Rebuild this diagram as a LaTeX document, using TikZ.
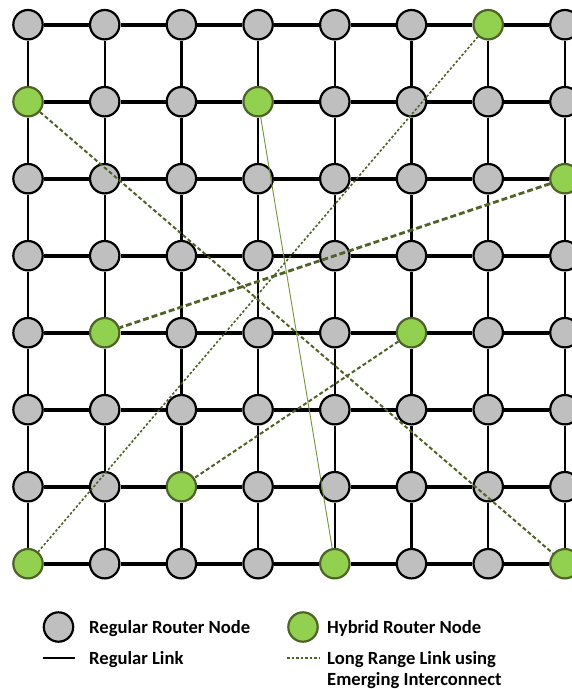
\documentclass[tikz,border=0pt]{standalone}
\usepackage{fontspec}
\setmainfont{Carlito}
\definecolor{fill0}{RGB}{191,191,191}
\definecolor{border0}{RGB}{0,0,0}
\definecolor{fill1}{RGB}{146,208,80}
\definecolor{border1}{RGB}{79,98,40}
\definecolor{lrcol}{RGB}{79,98,40}
\definecolor{lrsolidcol}{RGB}{118,146,60}
\begin{document}
\begin{tikzpicture}[x=1pt,y=-1pt,
  router/.style={circle,line width=2.2pt,minimum size=29.4pt,inner sep=0pt},
  hlink/.style={line width=3.6pt,black},
  vlink/.style={line width=2.4pt,black},
  lrone/.style={lrcol,line width=1.6pt,dash pattern=on 2.5pt off 2pt},
  lrtwo/.style={lrcol,line width=2pt,dash pattern=on 4pt off 2.5pt},
  lrthree/.style={lrcol,line width=2.8pt,dash pattern=on 6pt off 3pt},
  lrsolid/.style={lrsolidcol,line width=0.9pt},
  lab/.style={font=\fontsize{18.6}{22}\selectfont\bfseries,inner sep=0pt,anchor=base west}]
\useasboundingbox (0,0) rectangle (572,689);
\foreach \row [count=\j from 0] in {{0,0,0,0,0,0,1,0},{1,0,0,1,0,0,0,0},{0,0,0,0,0,0,0,1},{0,0,0,0,0,0,0,0},{0,1,0,0,0,1,0,0},{0,0,0,0,0,0,0,0},{0,0,1,0,0,0,0,0},{1,0,0,0,1,0,0,1}}
  \foreach \h [count=\i from 0] in \row
    \node[router,fill=fill\h,draw=border\h] (n\i-\j) at ({28+76.7*\i},{24.7+77*\j}) {};
% regular links
\foreach \j in {0,1,2,3,4,5,6,7}
  \foreach \i/\k in {0/1,1/2,2/3,3/4,4/5,5/6,6/7}
    \draw[hlink] (n\i-\j) -- (n\k-\j);
\foreach \i in {0,1,2,3,4,5,6,7}
  \foreach \j/\k in {0/1,1/2,2/3,3/4,4/5,5/6,6/7}
    \draw[vlink] (n\i-\j) -- (n\i-\k);
% long range links
\draw[lrtwo] (n0-1) -- (n7-7);
\draw[lrsolid] (n3-1) -- (n4-7);
\draw[lrone] (n6-0) -- (n0-7);
\draw[lrthree] (n7-2) -- (n1-4);
\draw[lrtwo] (n5-4) -- (n2-6);
% legend
\node[router,fill=fill0,draw=border0] (lg1) at (58.5,627) {};
\node[lab] (t1) at (89,633.5) {Regular Router Node};
\node[router,fill=fill1,draw=border1] (lg2) at (303,627) {};
\node[lab] (t2) at (327,633.5) {Hybrid Router Node};
\coordinate (a1) at (42.5,658);
\coordinate (a2) at (74.5,658);
\draw[line width=2.6pt] (a1) -- (a2);
\node[lab] (t3) at (89,664) {Regular Link};
\coordinate (b1) at (287,658);
\coordinate (b2) at (320,658);
\draw[lrone] (b1) -- (b2);
\node[lab] (t4) at (327,664) {Long Range Link using};
\node[lab] (t5) at (327,685.5) {Emerging Interconnect};
\end{tikzpicture}
\end{document}
